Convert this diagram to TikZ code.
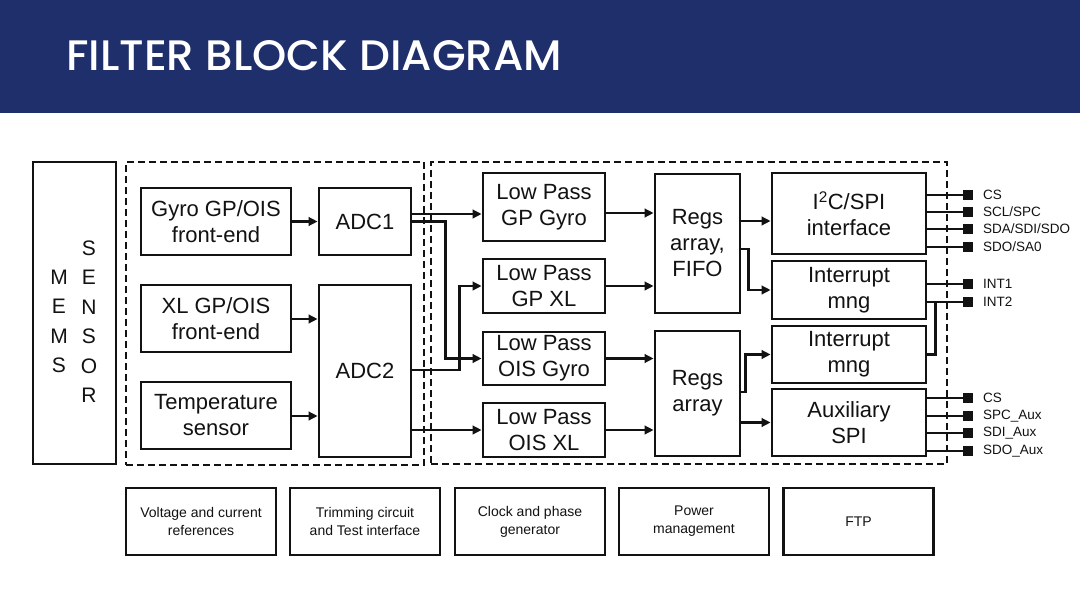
\documentclass[tikz,border=0pt]{standalone}
\usepackage{fontspec}
\setmainfont{Liberation Sans}
\newfontfamily\titlefont{Poppins Medium}
\usepackage{graphicx}
\usetikzlibrary{arrows.meta,calc}
\definecolor{navy}{RGB}{31,47,107}
\definecolor{ink}{RGB}{18,18,18}
\begin{document}
\begin{tikzpicture}[x=1pt,y=-1pt,
  blk/.style={draw=ink, line width=2.8pt, align=center, inner sep=0pt, text=ink,
    font=\fontsize{22}{26}\selectfont},
  sblk/.style={draw=ink, line width=2.6pt, align=center, inner sep=0pt, text=ink,
    minimum width=150pt, minimum height=67pt, font=\fontsize{14}{18}\selectfont},
  grp/.style={draw=ink, line width=2.3pt, dash pattern=on 7pt off 4pt, inner sep=0pt},
  arr/.style={draw=ink, line width=2.3pt, -{Triangle[length=9pt,width=8.5pt]}},
  wire/.style={draw=ink, line width=2.3pt},
  pinsq/.style={fill=ink, minimum size=9.5pt, inner sep=0pt},
  pinlbl/.style={anchor=west, inner sep=0pt, text=ink, font=\fontsize{13.5}{14}\selectfont},
  letters/.style={align=center, inner sep=0pt, text=ink, font=\fontsize{21}{29.5}\selectfont},
]
\useasboundingbox (0,0) rectangle (1080,600);
\fill[white] (0,0) rectangle (1080,600);
\fill[navy] (0,0) rectangle (1080,113);
\node[anchor=base west, inner sep=0pt, text=white] (title) at (66,70)
  {\resizebox{496pt}{30pt}{\titlefont FILTER BLOCK DIAGRAM}};

% groups
\node[grp, minimum width=298pt, minimum height=303pt] (grpA) at (275,313.5) {};
\node[grp, minimum width=516pt, minimum height=302pt] (grpB) at (689,313) {};

% MEMS sensor
\node[blk, minimum width=83pt, minimum height=302pt] (mems) at (74.5,313) {};
\node[letters] (memsA) at (59,321.5) {M\\E\\M\\S};
\node[letters] (memsB) at (89,321.5) {S\\E\\N\\S\\O\\R};

% front ends and ADCs
\node[blk, minimum width=150pt, minimum height=67pt] (gyro) at (216,221.5) {Gyro GP/OIS\\front-end};
\node[blk, minimum width=150pt, minimum height=67pt] (xl) at (216,318.5) {XL GP/OIS\\front-end};
\node[blk, minimum width=150pt, minimum height=67pt] (temp) at (216,415.5) {Temperature\\sensor};
\node[blk, minimum width=92pt, minimum height=67pt] (adc1) at (365,221.5) {ADC1};
\node[blk, minimum width=92pt, minimum height=172pt] (adc2) at (365,371) {ADC2};

% low pass filters
\node[blk, minimum width=122pt, minimum height=68pt] (lp1) at (544,207) {Low Pass\\GP Gyro};
\node[blk, minimum width=122pt, minimum height=54pt] (lp2) at (544,286) {Low Pass\\GP XL};
\node[blk, minimum width=122pt, minimum height=53pt] (lp3) at (544,358.5) {Low Pass\\OIS Gyro};
\node[blk, minimum width=122pt, minimum height=54pt] (lp4) at (544,430) {Low Pass\\OIS XL};

% registers
\node[blk, minimum width=85pt, minimum height=139pt] (regs1) at (697.5,243.5) {Regs\\array,\\FIFO};
\node[blk, minimum width=85pt, minimum height=125pt] (regs2) at (697.5,393.5) {Regs\\array};

% interfaces
\node[blk, minimum width=154pt, minimum height=81pt] (i2c) at (849,213.5) {I\textsuperscript{2}C/SPI\\interface};
\node[blk, minimum width=154pt, minimum height=58pt] (int1) at (849,290) {Interrupt\\mng};
\node[blk, minimum width=154pt, minimum height=57pt] (int2) at (849,354.5) {Interrupt\\mng};
\node[blk, minimum width=154pt, minimum height=67pt] (auxspi) at (849,422.5) {Auxiliary\\SPI};

% bottom blocks
\node[sblk] (vref) at (201,521.5) {Voltage and current\\references};
\node[sblk] (trim) at (365,521.5) {Trimming circuit\\and Test interface};
\node[sblk] (clk) at (530,521.5) {Clock and phase\\generator};
\node[sblk] (pwr) at (694,521.5) {Power\\management};
\node[sblk] (ftp) at (858.5,521.5) {FTP};

% connectors left part
\draw[arr] (gyro.east) -- (adc1.west);
\draw[arr] (xl.east |- 0,319) -- (adc2.west |- 0,319);
\draw[arr] (temp.east |- 0,416) -- (adc2.west |- 0,416);

% ADC outputs
\draw[arr] ($(adc1.east)+(0,-7.5)$) -- ($(adc1.east -| lp1.west)+(0,-7.5)$);
\draw[arr] (adc1.east) -- ++(33,0) |- (lp3.west);
\draw[arr] ($(adc2.east)+(0,-1)$) -- ++(47,0) |- (lp2.west);
\draw[arr] (adc2.east |- lp4.west) -- (lp4.west);

% LP to regs
\draw[arr] ($(lp1.east)+(0,6)$) -- ($(lp1.east -| regs1.west)+(0,6)$);
\draw[arr] (lp2.east) -- (lp2.east -| regs1.west);
\draw[arr] (lp3.east) -- (lp3.east -| regs2.west);
\draw[arr] (lp4.east) -- (lp4.east -| regs2.west);

% regs to interfaces
\draw[arr] ($(regs1.east |- i2c.west)+(0,7.5)$) -- ($(i2c.west)+(0,7.5)$);
\draw[arr] ($(regs1.east)+(0,5.5)$) -- ++(7,0) |- (int1.west);
\draw[arr] ($(regs2.east)+(0,-1.5)$) -- ++(4,0) |- (int2.west);
\draw[arr] (regs2.east |- auxspi.west) -- (auxspi.west);

% pins
\node[pinsq] (pcs) at (968,195) {};
\node[pinsq] (pscl) at (968,212) {};
\node[pinsq] (psda) at (968,229) {};
\node[pinsq] (psdo) at (968,247) {};
\node[pinsq] (pint1) at (968,284) {};
\node[pinsq] (pint2) at (968,302) {};
\node[pinsq] (pcs2) at (968,398) {};
\node[pinsq] (pspc) at (968,416) {};
\node[pinsq] (psdi) at (968,433) {};
\node[pinsq] (psdoa) at (968,451) {};

\node[pinlbl] (lcs) at (983,195) {CS};
\node[pinlbl] (lscl) at (983,212) {SCL/SPC};
\node[pinlbl] (lsda) at (983,229) {SDA/SDI/SDO};
\node[pinlbl] (lsdo) at (983,247) {SDO/SA0};
\node[pinlbl] (lint1) at (983,284) {INT1};
\node[pinlbl] (lint2) at (983,302) {INT2};
\node[pinlbl] (lcs2) at (983,398) {CS};
\node[pinlbl] (lspc) at (983,416) {SPC\_Aux};
\node[pinlbl] (lsdi) at (983,433) {SDI\_Aux};
\node[pinlbl] (lsdoa) at (983,451) {SDO\_Aux};

\draw[wire] (i2c.east |- pcs) -- (pcs);
\draw[wire] (i2c.east |- pscl) -- (pscl);
\draw[wire] (i2c.east |- psda) -- (psda);
\draw[wire] (i2c.east |- psdo) -- (psdo);
\draw[wire] (int1.east |- pint1) -- (pint1);
\draw[wire] (int1.east |- pint2) -- (pint2);
\draw[wire] (int2.east) -- ++(8,0) |- (pint2);
\draw[wire] (auxspi.east |- pcs2) -- (pcs2);
\draw[wire] (auxspi.east |- pspc) -- (pspc);
\draw[wire] (auxspi.east |- psdi) -- (psdi);
\draw[wire] (auxspi.east |- psdoa) -- (psdoa);
\end{tikzpicture}
\end{document}
